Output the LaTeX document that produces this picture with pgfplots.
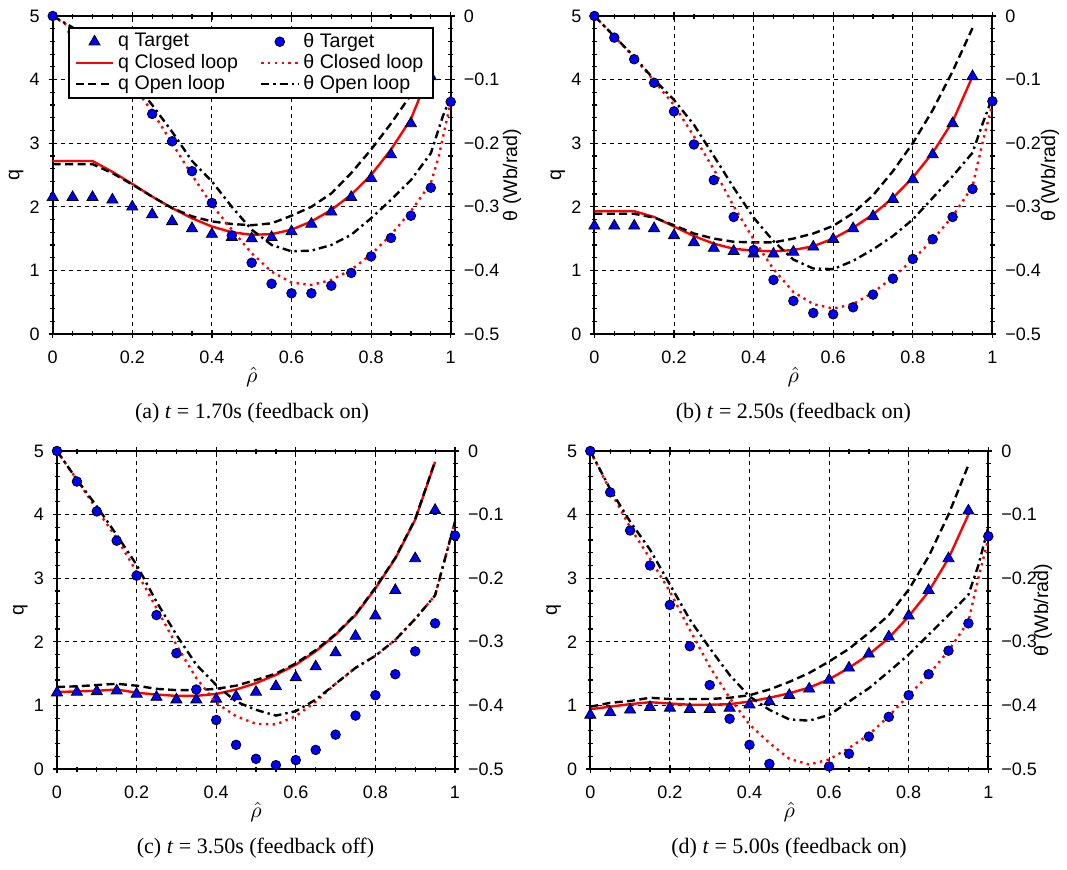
\documentclass[border=0pt]{standalone}
\usepackage{fontspec}
\setmainfont{Liberation Serif}
\setsansfont{Liberation Sans}
\usepackage{pgfplots}
\pgfplotsset{compat=1.18}

\newcommand{\tfont}{\sffamily\fontsize{9}{11}\selectfont}
\newcommand{\lfont}{\sffamily\fontsize{9.8}{11.5}\selectfont}
\newcommand{\cfont}{\rmfamily\fontsize{11}{13}\selectfont}

\pgfplotsset{
  panel/.style={
    scale only axis, width=199pt, height=159pt,
    xmin=0, xmax=1, clip=false,
    axis line style={black, line width=1pt},
    tick align=center, major tick length=4pt, minor tick length=2.5pt,
    every tick/.style={black, line width=0.6pt},
    tick label style={font=\tfont},
    label style={font=\lfont},
  },
  qaxis/.style={
    panel, ymin=0, ymax=5, axis y line*=left,
    xtick={0,0.2,0.4,0.6,0.8,1}, xticklabels={0,0.2,0.4,0.6,0.8,1},
    ytick={0,1,2,3,4,5}, yticklabels={0,1,2,3,4,5},
    minor x tick num=3, minor y tick num=4,
    grid=major,
    major grid style={black, line width=0.5pt, dash pattern=on 2pt off 2pt},
    xticklabel style={yshift=-3pt},
    yticklabel style={xshift=-1pt},
    xlabel={$\hat{\rho}$},
    xlabel style={font=\fontsize{11}{13}\selectfont, at={(axis description cs:0.5,0)}, anchor=center, yshift=-21.5pt},
    ylabel={q},
    ylabel style={at={(axis description cs:-0.092,0.5)}, anchor=center},
  },
  thaxis/.style={
    panel, ymin=-0.5, ymax=0, axis y line*=right, axis x line=none,
    ytick={-0.5,-0.4,-0.3,-0.2,-0.1,0},
    yticklabels={−0.5,−0.4,−0.3,−0.2,−0.1,0},
    minor y tick num=4,
    yticklabel style={xshift=1pt},
  },
  qT/.style={only marks, mark=triangle*, mark size=3.2pt, mark options={fill=blue, draw=black, line width=0.4pt}},
  thT/.style={only marks, mark=*, mark size=2.4pt, mark options={fill=blue, draw=black, line width=0.4pt}},
  qC/.style={red, line width=1.2pt, no marks},
  thC/.style={red, line width=1.2pt, dash pattern=on 1.2pt off 2.2pt, no marks},
  qO/.style={black, line width=1.2pt, dash pattern=on 4pt off 2.2pt, no marks},
  thO/.style={black, line width=1.2pt, dash pattern=on 4pt off 2pt on 1.2pt off 2pt, no marks},
}

\begin{document}
\begin{tikzpicture}
\path[use as bounding box] (0,0) rectangle (533.5pt,434.5pt);

% ---------------- (a) t = 1.70s
\begin{axis}[qaxis, at={(26.35pt,267.5pt)}, anchor=south west]
  \addplot[qT] coordinates {(0,2.15)(0.05,2.15)(0.1,2.15)(0.15,2.11)(0.2,2.0)(0.25,1.88)(0.3,1.77)(0.35,1.66)(0.4,1.57)(0.45,1.52)(0.5,1.50)(0.55,1.52)(0.6,1.61)(0.65,1.73)(0.7,1.92)(0.75,2.15)(0.8,2.45)(0.85,2.82)(0.9,3.31)(0.95,4.05)};
  \addplot[qC] coordinates {(0,2.72)(0.1,2.72)(0.15,2.55)(0.2,2.36)(0.25,2.16)(0.3,1.98)(0.35,1.82)(0.4,1.69)(0.45,1.60)(0.5,1.56)(0.55,1.57)(0.6,1.64)(0.65,1.77)(0.7,1.95)(0.75,2.19)(0.8,2.50)(0.85,2.90)(0.9,3.38)(0.95,4.15)};
  \addplot[qO] coordinates {(0,2.67)(0.1,2.67)(0.15,2.53)(0.2,2.35)(0.25,2.16)(0.3,1.98)(0.35,1.85)(0.4,1.77)(0.45,1.73)(0.5,1.71)(0.55,1.74)(0.6,1.86)(0.65,2.0)(0.7,2.21)(0.75,2.53)(0.8,2.9)(0.85,3.31)(0.9,3.76)(0.95,4.6)};
\end{axis}
\begin{axis}[thaxis, at={(26.35pt,267.5pt)}, anchor=south west,
  legend columns=2, legend cell align=left,
  legend image code/.code={\draw[mark repeat=2,mark phase=2,#1] plot coordinates {(0pt,0pt)(9.25pt,0pt)(18.5pt,0pt)};},
  legend style={at={(0.038,0.965)}, anchor=north west, draw=black, line width=1pt, fill=white,
    font=\lfont, inner xsep=3pt, inner ysep=0.5pt, row sep=-2pt,
    /tikz/every even column/.append style={column sep=9pt}}]
  \addlegendimage{qT}\addlegendentry{q Target}
  \addlegendimage{thT}\addlegendentry{θ Target}
  \addlegendimage{qC}\addlegendentry{q Closed loop}
  \addlegendimage{thC}\addlegendentry{θ Closed loop}
  \addlegendimage{qO}\addlegendentry{q Open loop}
  \addlegendimage{thO}\addlegendentry{θ Open loop}
  \addplot[thT, forget plot] coordinates {(0,0)(0.05,-0.025)(0.1,-0.052)(0.15,-0.082)(0.2,-0.115)(0.25,-0.154)(0.3,-0.197)(0.35,-0.244)(0.4,-0.294)(0.45,-0.345)(0.5,-0.388)(0.55,-0.421)(0.6,-0.436)(0.65,-0.436)(0.7,-0.424)(0.75,-0.404)(0.8,-0.378)(0.85,-0.349)(0.9,-0.314)(0.95,-0.27)(1,-0.135)};
  \addplot[thC, forget plot] coordinates {(0,0)(0.05,-0.02)(0.1,-0.048)(0.15,-0.078)(0.2,-0.108)(0.25,-0.15)(0.3,-0.2)(0.35,-0.25)(0.4,-0.297)(0.45,-0.336)(0.5,-0.373)(0.55,-0.402)(0.6,-0.419)(0.65,-0.423)(0.7,-0.415)(0.75,-0.399)(0.8,-0.375)(0.85,-0.344)(0.9,-0.307)(0.95,-0.263)(0.97,-0.221)(1,-0.135)};
  \addplot[thO, forget plot] coordinates {(0,0)(0.05,-0.018)(0.1,-0.044)(0.15,-0.07)(0.2,-0.1)(0.25,-0.14)(0.3,-0.182)(0.35,-0.228)(0.4,-0.26)(0.45,-0.3)(0.5,-0.336)(0.55,-0.36)(0.6,-0.37)(0.65,-0.369)(0.7,-0.36)(0.75,-0.344)(0.8,-0.318)(0.85,-0.289)(0.9,-0.258)(0.95,-0.216)(0.98,-0.158)(1,-0.127)};
\end{axis}
\node[font=\lfont, rotate=90, anchor=center] at (256pt,347pt) {θ (Wb/rad)};
\node[font=\cfont] at (126pt,228pt) {(a) \textit{t} = 1.70s (feedback on)};

% ---------------- (b) t = 2.50s
\begin{axis}[qaxis, at={(297.2pt,267.5pt)}, anchor=south west]
  \addplot[qT] coordinates {(0,1.70)(0.05,1.70)(0.1,1.70)(0.15,1.66)(0.2,1.55)(0.25,1.44)(0.3,1.35)(0.35,1.30)(0.4,1.26)(0.45,1.26)(0.5,1.29)(0.55,1.37)(0.6,1.49)(0.65,1.66)(0.7,1.85)(0.75,2.12)(0.8,2.43)(0.85,2.82)(0.9,3.31)(0.95,4.05)};
  \addplot[qC] coordinates {(0,1.93)(0.1,1.93)(0.15,1.84)(0.2,1.69)(0.25,1.54)(0.3,1.42)(0.35,1.34)(0.4,1.31)(0.45,1.30)(0.5,1.32)(0.55,1.38)(0.6,1.50)(0.65,1.67)(0.7,1.88)(0.75,2.14)(0.8,2.46)(0.85,2.85)(0.9,3.34)(0.95,4.05)};
  \addplot[qO] coordinates {(0,1.89)(0.1,1.89)(0.15,1.83)(0.2,1.71)(0.25,1.58)(0.3,1.50)(0.35,1.45)(0.4,1.44)(0.45,1.44)(0.5,1.50)(0.55,1.58)(0.6,1.70)(0.65,1.90)(0.7,2.18)(0.75,2.56)(0.8,3.0)(0.85,3.52)(0.9,4.13)(0.95,4.81)};
\end{axis}
\begin{axis}[thaxis, at={(297.2pt,267.5pt)}, anchor=south west]
  \addplot[thT] coordinates {(0,0)(0.05,-0.034)(0.1,-0.068)(0.15,-0.105)(0.2,-0.15)(0.25,-0.202)(0.3,-0.258)(0.35,-0.316)(0.4,-0.368)(0.45,-0.415)(0.5,-0.448)(0.55,-0.467)(0.6,-0.469)(0.65,-0.458)(0.7,-0.438)(0.75,-0.413)(0.8,-0.382)(0.85,-0.351)(0.9,-0.316)(0.95,-0.272)(1,-0.134)};
  \addplot[thC] coordinates {(0,0)(0.05,-0.032)(0.1,-0.065)(0.15,-0.102)(0.2,-0.14)(0.25,-0.189)(0.3,-0.241)(0.35,-0.299)(0.4,-0.351)(0.45,-0.398)(0.5,-0.434)(0.55,-0.453)(0.6,-0.46)(0.65,-0.453)(0.7,-0.435)(0.75,-0.411)(0.8,-0.383)(0.85,-0.352)(0.9,-0.315)(0.95,-0.268)(0.975,-0.2)(1,-0.138)};
  \addplot[thO] coordinates {(0,0)(0.05,-0.032)(0.1,-0.064)(0.15,-0.1)(0.2,-0.132)(0.25,-0.171)(0.3,-0.22)(0.35,-0.27)(0.4,-0.317)(0.45,-0.354)(0.5,-0.383)(0.55,-0.397)(0.6,-0.398)(0.65,-0.385)(0.7,-0.367)(0.75,-0.346)(0.8,-0.32)(0.85,-0.286)(0.9,-0.252)(0.95,-0.215)(0.975,-0.17)(1,-0.128)};
\end{axis}
\node[font=\lfont, rotate=90, anchor=center] at (525pt,347pt) {θ (Wb/rad)};
\node[font=\cfont] at (396.7pt,228pt) {(b) \textit{t} = 2.50s (feedback on)};

% ---------------- (c) t = 3.50s
\begin{axis}[qaxis, at={(28.5pt,50pt)}, anchor=south west]
  \addplot[qT] coordinates {(0,1.20)(0.05,1.21)(0.1,1.22)(0.15,1.23)(0.2,1.18)(0.25,1.13)(0.3,1.09)(0.35,1.09)(0.4,1.10)(0.45,1.14)(0.5,1.21)(0.55,1.30)(0.6,1.44)(0.65,1.61)(0.7,1.83)(0.75,2.09)(0.8,2.41)(0.85,2.81)(0.9,3.31)(0.95,4.07)};
  \addplot[qC] coordinates {(0,1.21)(0.05,1.22)(0.1,1.23)(0.15,1.25)(0.2,1.20)(0.25,1.17)(0.3,1.15)(0.35,1.15)(0.4,1.18)(0.45,1.25)(0.5,1.35)(0.55,1.48)(0.6,1.64)(0.65,1.85)(0.7,2.11)(0.75,2.42)(0.8,2.84)(0.85,3.31)(0.9,3.92)(0.95,4.83)};
  \addplot[qO] coordinates {(0,1.29)(0.05,1.30)(0.1,1.32)(0.15,1.34)(0.2,1.31)(0.25,1.26)(0.3,1.24)(0.35,1.24)(0.4,1.26)(0.45,1.31)(0.5,1.40)(0.55,1.50)(0.6,1.66)(0.65,1.87)(0.7,2.12)(0.75,2.43)(0.8,2.85)(0.85,3.32)(0.9,3.93)(0.95,4.84)};
\end{axis}
\begin{axis}[thaxis, at={(28.5pt,50pt)}, anchor=south west]
  \addplot[thT] coordinates {(0,0)(0.05,-0.048)(0.1,-0.095)(0.15,-0.141)(0.2,-0.196)(0.25,-0.258)(0.3,-0.318)(0.35,-0.375)(0.4,-0.423)(0.45,-0.462)(0.5,-0.484)(0.55,-0.494)(0.6,-0.486)(0.65,-0.47)(0.7,-0.446)(0.75,-0.416)(0.8,-0.384)(0.85,-0.351)(0.9,-0.315)(0.95,-0.271)(1,-0.133)};
  \addplot[thC] coordinates {(0,0)(0.05,-0.045)(0.1,-0.092)(0.15,-0.137)(0.2,-0.19)(0.25,-0.247)(0.3,-0.305)(0.35,-0.357)(0.4,-0.396)(0.45,-0.417)(0.5,-0.429)(0.55,-0.43)(0.6,-0.417)(0.65,-0.394)(0.7,-0.366)(0.75,-0.341)(0.8,-0.322)(0.85,-0.297)(0.9,-0.264)(0.95,-0.227)(1,-0.111)};
  \addplot[thO] coordinates {(0,0)(0.05,-0.045)(0.1,-0.087)(0.15,-0.132)(0.2,-0.179)(0.25,-0.237)(0.3,-0.289)(0.35,-0.336)(0.4,-0.368)(0.45,-0.394)(0.5,-0.407)(0.55,-0.416)(0.6,-0.409)(0.65,-0.391)(0.7,-0.366)(0.75,-0.341)(0.8,-0.322)(0.85,-0.297)(0.9,-0.264)(0.95,-0.227)(1,-0.111)};
\end{axis}
\node[font=\cfont] at (127.75pt,10.5pt) {(c) \textit{t} = 3.50s (feedback off)};

% ---------------- (d) t = 5.00s
\begin{axis}[qaxis, at={(295.15pt,50pt)}, anchor=south west]
  \addplot[qT] coordinates {(0,0.85)(0.05,0.89)(0.1,0.93)(0.15,0.97)(0.2,0.96)(0.25,0.94)(0.3,0.94)(0.35,0.96)(0.4,1.01)(0.45,1.06)(0.5,1.16)(0.55,1.26)(0.6,1.40)(0.65,1.59)(0.7,1.81)(0.75,2.08)(0.8,2.41)(0.85,2.81)(0.9,3.31)(0.95,4.06)};
  \addplot[qC] coordinates {(0,0.94)(0.05,0.98)(0.1,1.02)(0.15,1.05)(0.2,1.03)(0.25,1.01)(0.3,1.01)(0.35,1.02)(0.4,1.06)(0.45,1.12)(0.5,1.19)(0.55,1.28)(0.6,1.41)(0.65,1.59)(0.7,1.80)(0.75,2.06)(0.8,2.40)(0.85,2.79)(0.9,3.31)(0.95,4.0)};
  \addplot[qO] coordinates {(0,0.98)(0.05,1.04)(0.1,1.07)(0.15,1.12)(0.2,1.10)(0.25,1.10)(0.3,1.10)(0.35,1.12)(0.4,1.16)(0.45,1.25)(0.5,1.37)(0.55,1.51)(0.6,1.69)(0.65,1.89)(0.7,2.14)(0.75,2.42)(0.8,2.82)(0.85,3.34)(0.9,4.0)(0.95,4.78)};
\end{axis}
\begin{axis}[thaxis, at={(295.15pt,50pt)}, anchor=south west]
  \addplot[thT] coordinates {(0,0)(0.05,-0.065)(0.1,-0.125)(0.15,-0.18)(0.2,-0.242)(0.25,-0.307)(0.3,-0.368)(0.35,-0.421)(0.4,-0.462)(0.45,-0.492)(0.6,-0.496)(0.65,-0.476)(0.7,-0.449)(0.75,-0.418)(0.8,-0.384)(0.85,-0.351)(0.9,-0.314)(0.95,-0.271)(1,-0.134)};
  \addplot[thC] coordinates {(0,0)(0.05,-0.062)(0.1,-0.12)(0.15,-0.169)(0.2,-0.221)(0.25,-0.281)(0.3,-0.339)(0.35,-0.388)(0.4,-0.43)(0.45,-0.459)(0.5,-0.484)(0.55,-0.493)(0.6,-0.485)(0.65,-0.467)(0.7,-0.446)(0.75,-0.417)(0.8,-0.384)(0.85,-0.352)(0.9,-0.314)(0.95,-0.268)(0.975,-0.2)(1,-0.138)};
  \addplot[thO] coordinates {(0,0)(0.05,-0.06)(0.1,-0.111)(0.15,-0.155)(0.2,-0.21)(0.25,-0.265)(0.3,-0.31)(0.35,-0.352)(0.4,-0.386)(0.45,-0.407)(0.5,-0.422)(0.55,-0.424)(0.6,-0.415)(0.65,-0.394)(0.7,-0.373)(0.75,-0.347)(0.8,-0.32)(0.85,-0.289)(0.9,-0.258)(0.95,-0.226)(0.975,-0.18)(1,-0.12)};
\end{axis}
\node[font=\lfont, rotate=90, anchor=center] at (521.5pt,129.5pt) {θ (Wb/rad)};
\node[font=\cfont] at (394.5pt,10.5pt) {(d) \textit{t} = 5.00s (feedback on)};

\end{tikzpicture}
\end{document}
